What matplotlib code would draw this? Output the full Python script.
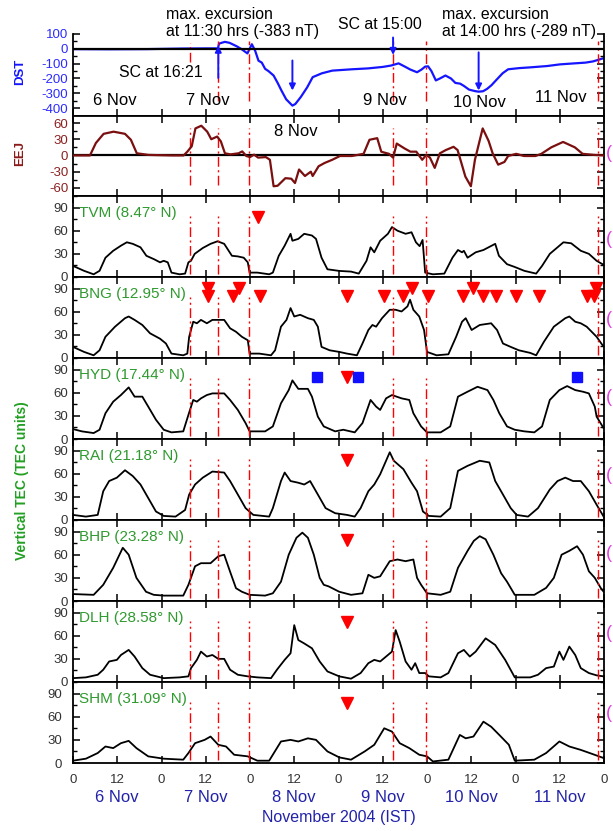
import numpy as np
import matplotlib
matplotlib.use('Agg')
import matplotlib.pyplot as plt
from matplotlib.ticker import MultipleLocator

plt.rcParams['font.family'] = ['Liberation Sans', 'DejaVu Sans']
plt.rcParams['axes.unicode_minus'] = False

# hours counted from 6 Nov 2004 00:00 IST
dst_pts = [(0, -2), (10, -3), (20, -2), (30, 2), (36, 3), (39.3, 3), (39.6, 35), (40.5, 42),
           (41.2, 47), (42.5, 40), (44.4, 17), (45.7, -2), (47.3, -31), (48.5, 31), (49.4, -13),
           (50.3, -80), (51.2, -93), (52.1, -135), (53, -150), (54.4, -180), (55.5, -230),
           (56.5, -280), (57.8, -340), (59.5, -383), (60.3, -372), (61.8, -324), (63.5, -260),
           (65, -191), (67.5, -165), (70.3, -147), (75.6, -138), (80, -132), (84, -122),
           (86.2, -113), (88.3, -98), (90, -120), (91.5, -140), (93.3, -158), (94.5, -140),
           (95.5, -120), (96.3, -118), (97.2, -150), (98.4, -213), (99.5, -200), (101, -180),
           (102.5, -200), (103.7, -230), (105, -235), (106, -250), (107.4, -275), (109, -285),
           (110, -289), (111.2, -286), (112.3, -270), (113.5, -245), (114.8, -210), (116.5, -165),
           (118, -138), (121, -130), (124, -125), (128.6, -116), (132, -105), (136, -98),
           (139, -93), (141, -85), (143, -70), (144, -62)]

eej_pts = [(0, 0), (4.6, 0), (6.2, 23), (8.3, 40), (11, 44), (14.1, 40), (15.7, 29), (17.3, 4),
           (20.5, 1), (26.8, 0), (30, 0), (31, 7), (32.2, 17), (33.2, 50), (34.8, 55), (36.4, 44),
           (37.5, 30), (39.1, 35), (40.1, 26), (41.2, 4), (42.7, 2), (44.9, 4), (45.9, 7.5),
           (47, -1), (48, -3), (49.1, 1.5), (50.2, -4), (52.3, -3), (53.4, -8), (54.4, -57),
           (55.5, -56), (57.6, -42), (59.2, -43), (60.2, -51), (61.3, -26), (62.9, -38),
           (64.5, -30), (65, -38), (66.6, -20), (68.2, -14), (70.3, -8), (72.4, -1), (75.6, -1),
           (78.8, 3), (80.4, 29), (82.5, 32), (83.6, 7), (84.6, 5), (85.7, 3), (86.8, -4),
           (87.8, 22), (89.9, 13), (91.5, 7), (93.1, 7), (94.7, -8), (95.8, 1), (96.8, -4),
           (98.1, -23), (99.5, 4), (101.1, 10), (103.2, 16), (104.3, 10), (106.4, -39),
           (107.9, -57), (109, -8), (111.1, 50), (112.7, 27), (113.8, 4), (115.3, -17), (117, -12),
           (118, -1), (120.2, 3), (122.3, -1), (125.4, -1), (127, 3), (129.7, 15), (132.9, 25),
           (136.1, 15), (138.2, 3), (141.4, 1), (144, 0)]

tvm_pts = [(0, 14.4), (3, 8), (5.6, 3.5), (7.2, 8), (8.8, 25), (10.9, 34), (13, 40.6), (14.6, 45),
           (16.2, 43), (18.3, 38.5), (19.9, 27.5), (22, 23), (23.6, 19), (24.6, 21), (25.7, 19),
           (26.7, 5.7), (28.9, 3.5), (30.4, 4.4), (31.3, 19), (32, 21), (33, 30), (35.2, 37.6),
           (37.3, 43), (39.2, 46.3), (41, 43), (43.1, 27.5), (44.7, 26.7), (46.3, 25), (47.4, 19),
           (47.9, 5.7), (50, 5.7), (53.2, 3.5), (54.2, 5.7), (55.8, 27.5), (57.4, 40.6), (59, 56),
           (59.5, 47), (61.1, 49.4), (62.7, 56), (64.8, 53.8), (65.9, 49.4), (67.4, 25), (69, 10),
           (72.2, 7.9), (75.4, 7), (77.5, 4.4), (79.6, 21), (80.7, 38.5), (81.7, 32), (83.3, 47),
           (85.4, 56), (86.5, 64.7), (88, 60), (90.2, 56), (91.8, 58), (93, 45), (94, 40),
           (94.8, 48), (95.5, 5.7), (97.6, 3.5), (100.7, 4.4), (102.9, 25), (104.4, 35),
           (105.5, 32), (106, 34), (107, 25), (109.2, 32), (111.3, 35), (114.5, 43), (115.5, 27.5),
           (117.7, 16.6), (119.8, 13), (122.4, 8), (125.6, 4.4), (127.2, 14.4), (129.3, 30),
           (131.4, 38.5), (133, 45), (135.1, 43.7), (137.7, 34), (139.9, 30), (142, 21),
           (143.6, 16.6), (144, 16)]

bng_pts = [(0, 14.4), (3, 7.9), (5.6, 3.5), (7.2, 10), (8.8, 27.5), (11.4, 40.6), (14.1, 51.6),
           (15.1, 53.8), (16.7, 49.4), (18.8, 42.8), (20.9, 32), (23.6, 25), (25.2, 18.8),
           (26.7, 5.7), (29.9, 3.5), (31, 5.7), (31.5, 27.5), (32.6, 47), (33.6, 45), (34.7, 49.4),
           (36.3, 45), (37.8, 49.4), (41, 49.4), (42.6, 38.5), (44.2, 34), (45.8, 27.5),
           (47.4, 23), (47.9, 5.7), (50.5, 5.7), (53.7, 3.5), (54.8, 10), (56.4, 40.6),
           (57.9, 49.4), (59, 64.7), (60, 53.8), (61.6, 56), (63.7, 51.6), (65.3, 49.4),
           (66.4, 40.6), (67.4, 14.4), (69.6, 10), (72.2, 7.9), (74.3, 5.7), (77, 3.5), (78.5, 18.8),
           (80.1, 36.3), (81.2, 42.8), (82.2, 40.6), (83.8, 51.6), (85.9, 62.5), (87.5, 62.5),
           (89.1, 60.3), (90.7, 66.9), (91.4, 75.6), (92.3, 62.5), (93.9, 53.8), (95.2, 36.3),
           (96, 7.9), (98.6, 3.5), (101.8, 4.8), (103.9, 27.5), (105.5, 47), (106.5, 51.6),
           (108.1, 36.3), (110.3, 42.8), (113.4, 45), (115, 36.3), (116.6, 18.8), (118.7, 14.4),
           (120.9, 10), (124, 6.6), (125.6, 3.5), (127.7, 21), (130.4, 40.6), (133.5, 51.6),
           (134.6, 53.8), (136.2, 47), (137.7, 45), (139.3, 40.6), (142, 27.5), (143.6, 16.6),
           (144, 15)]

hyd_pts = [(0, 12.9), (2.4, 9.9), (5.6, 7.7), (7.2, 12), (8.8, 33.4), (10.9, 48.4), (13, 57),
           (15.1, 66.9), (16.7, 54.9), (18.8, 54.9), (20.4, 42), (22.5, 24.9), (24.6, 12),
           (26.7, 8.6), (29.9, 9.9), (31.3, 31.3), (32.6, 50.6), (33.6, 48.4), (34.7, 52.7),
           (36.3, 57), (37.8, 59.1), (41, 59.1), (42.6, 50.6), (44.7, 37.7), (46.8, 20.6),
           (47.9, 9.9), (52.1, 9.9), (54.2, 16.3), (56.4, 46.3), (58.5, 63.4), (59.5, 76),
           (61.1, 65), (63.7, 65), (64.8, 54.9), (66.4, 29), (68, 16.3), (71.1, 9.9), (73.3, 12),
           (76.4, 8.6), (78.5, 20.6), (80.7, 50.6), (82.2, 42), (83.3, 37.7), (84.9, 52.7),
           (86.5, 57), (89.1, 52.7), (91.2, 50.6), (92.3, 33.4), (94.4, 16.3), (96, 8.6),
           (99.7, 8.6), (102.3, 16.3), (104.4, 54.9), (107, 61.3), (109.7, 67.7), (112.4, 63.4),
           (114, 50.6), (115.6, 33.4), (117.7, 16.3), (119.8, 12), (122.4, 9.9), (125.1, 8.6),
           (127.2, 16.3), (129.3, 50.6), (131.9, 63.4), (134, 68.6), (136.2, 63.4), (138.3, 61.3),
           (139.9, 59.1), (141.5, 42), (142, 29), (143.9, 14)]

rai_pts = [(0, 6.6), (3.5, 4.4), (6.7, 6.6), (8.2, 37.3), (9.8, 50.5), (11.9, 54.9), (14.1, 64.5),
           (16.2, 57), (18.3, 46), (20.4, 28.5), (22.5, 11), (24.6, 5.3), (27.8, 4.4), (30.4, 13),
           (31.5, 33), (33.1, 46), (35.2, 54.9), (37.8, 62.8), (41, 61.5), (42.6, 50.5),
           (44.7, 33), (46.8, 15.4), (48.9, 6.6), (53.2, 4.4), (54.2, 15.4), (56.4, 50.5),
           (57.4, 61.5), (59, 50.5), (61.1, 48.3), (62.7, 46), (64.3, 50.5), (66.4, 33),
           (68.5, 15.4), (71.1, 8.8), (74.3, 6.6), (76.4, 4.4), (78, 15.4), (80.1, 37.3),
           (81.7, 46), (83.3, 59.3), (85.9, 87.8), (87, 76.8), (89.6, 65.9), (91.8, 48.3),
           (93.3, 37.3), (94.9, 11), (96.5, 5.3), (99.7, 4.4), (102.3, 15.4), (104.4, 63.7),
           (107, 70.2), (110.3, 76.8), (112.9, 74.6), (114.5, 50.5), (116.6, 33), (118.7, 15.4),
           (120.3, 6.6), (123.4, 4.4), (126.1, 15.4), (129.3, 39.5), (131.4, 50.5), (133.5, 54.9),
           (135.6, 50.5), (137.7, 50.5), (139.9, 37.3), (142, 19.8), (143.9, 4.4)]

bhp_pts = [(0, 9), (5.6, 8), (8.2, 21), (10.9, 43), (13.5, 69), (15.1, 60), (17.2, 30),
           (19.8, 12), (21.9, 8), (24.6, 7), (29.9, 7), (31.3, 21), (33.1, 45), (34.7, 49),
           (37.3, 49), (39.4, 58), (41, 60), (42.6, 38), (44.2, 16.6), (45.8, 12), (47.9, 8),
           (52.1, 7), (54.2, 10), (56.4, 25), (58.5, 60), (60.6, 82), (62.2, 88.6), (63.7, 82),
           (65.3, 60), (66.9, 30), (68, 21), (69.3, 19), (72.2, 12), (75.4, 8), (78.5, 10),
           (80.1, 34), (81.7, 30), (83.3, 32), (85.9, 51.6), (88, 53.8), (90.2, 51.6), (92.3, 53.8),
           (93.3, 30), (94.4, 21), (96, 10), (99.7, 8), (102.3, 12), (104.4, 43), (107, 65),
           (108.7, 78), (110.3, 84), (111.9, 80), (114, 60), (116.1, 36), (117.7, 25), (119.8, 8),
           (125.1, 8), (128.3, 17), (130.4, 30), (132.5, 60), (134.6, 65), (136.7, 71), (138.3, 60),
           (139.9, 38.5), (141.5, 30), (143.1, 17), (143.9, 12)]

dlh_pts = [(0, 5), (3.5, 6), (6.7, 9.4), (8.2, 15.9), (9.8, 26.6), (11.9, 28.7), (13, 35),
           (15.1, 41.6), (16.7, 33), (18.8, 18), (20.9, 9.4), (24.6, 5), (28.9, 6), (31.3, 7.3),
           (32, 18), (33.6, 28.7), (34.7, 39.4), (36.3, 33), (37.8, 35), (39.4, 30), (41, 30),
           (42.6, 15.9), (44.7, 9.4), (47.4, 7.3), (50, 6), (53.7, 5), (55.3, 15.9), (57.4, 28.7),
           (59, 37.3), (60, 73.7), (61.1, 54.4), (62.7, 50), (64.8, 43.7), (66.9, 26.6),
           (69, 13.7), (72.2, 7.3), (75.4, 4.3), (78, 11.6), (80.1, 24.4), (81.7, 28.7),
           (83.3, 26.6), (84.9, 33), (86.5, 39.4), (87.5, 67.3), (88.6, 52.3), (90.2, 26.6),
           (91.8, 15.9), (92.8, 24.4), (93.9, 11.6), (95.5, 11.6), (96.5, 7.3), (99.7, 6),
           (101.8, 11.6), (104.4, 37.3), (106, 41.6), (107.6, 33), (109.2, 39.4), (111.9, 56.6),
           (114.5, 48), (117.2, 28.7), (119.8, 6), (124, 6), (126.1, 9.4), (128.3, 18),
           (130.4, 20), (131.9, 39.4), (133, 28.7), (134.6, 45.9), (136.2, 35), (137.7, 18),
           (139.9, 11.6), (142, 8.6), (143.9, 7.3)]

shm_pts = [(0, 3), (3.5, 5.6), (6.7, 12.9), (8.8, 21.4), (10.9, 19.3), (13, 25.7), (15.1, 28.7),
           (17.2, 19.3), (20.4, 8.6), (24.6, 5.6), (29.9, 4.3), (31.3, 12.9), (33.1, 25.7),
           (35.7, 30), (37.3, 34.3), (39.4, 23.6), (41.5, 21.4), (43.7, 10.7), (47.4, 8.6),
           (50, 3), (53.2, 3), (56.4, 27.9), (59, 30), (61.1, 27.9), (63.7, 32), (65.9, 30),
           (69, 15), (72.2, 7.3), (75.4, 4.3), (79.1, 15), (81.7, 23.6), (84.4, 45), (86.5, 40.7),
           (88.6, 25.7), (91.2, 19.3), (93.9, 10.7), (96, 8.6), (97.6, 2), (101.8, 4.3),
           (104.9, 36.4), (106.5, 32), (108.6, 34.3), (111.3, 53.6), (113.4, 47), (115.6, 36.4),
           (118.2, 23.6), (119.8, 3), (125.1, 4.3), (128.3, 12.9), (131.9, 27.9), (134.6, 21.4),
           (137.7, 17), (140.9, 11.6), (143.9, 6.4)]

stations = ['TVM (8.47° N)', 'BNG (12.95° N)', 'HYD (17.44° N)', 'RAI (21.18° N)',
            'BHP (23.28° N)', 'DLH (28.58° N)', 'SHM (31.09° N)']
tec_series = [tvm_pts, bng_pts, hyd_pts, rai_pts, bhp_pts, dlh_pts, shm_pts]

# scintillation markers (hour, height in TEC units)
tri_pts = [
    [(50.3, 78)],
    [(36.6, 91), (36.6, 80), (43.4, 80), (44.9, 91), (50.8, 80), (74.3, 80), (84.4, 80),
     (89.6, 80), (92.0, 91), (96.3, 80), (105.7, 80), (108.5, 91), (111.1, 80), (114.7, 80),
     (120.1, 80), (126.4, 80), (139.5, 80), (141.4, 80), (141.8, 91)],
    [(74.3, 80)],
    [(74.3, 78)],
    [(74.3, 79)],
    [(74.3, 78)],
    [(74.3, 78)],
]
hyd_squares = [(66.1, 81), (77.2, 81), (136.7, 81)]

event_lines = [31.6, 39.4, 47.6, 86.8, 95.8, 142.3]
day_names = ['6 Nov', '7 Nov', '8 Nov', '9 Nov', '10 Nov', '11 Nov']

W, H = 613, 831
fig = plt.figure(figsize=(W / 100, H / 100), dpi=100)


def box(top, bottom):
    return [73 / W, 1 - bottom / H, 531 / W, (bottom - top) / H]


def style(ax, color, minor):
    ax.set_xlim(0, 144)
    ax.set_xticks(np.arange(0, 145, 12))
    ax.yaxis.set_minor_locator(MultipleLocator(minor))
    ax.tick_params(direction='in', top=True, right=True, length=5, width=1.1,
                   labelsize=9.5, labelcolor=color, labelbottom=False)
    ax.tick_params(which='minor', direction='in', right=True, length=3, width=1)
    for s in ax.spines.values():
        s.set_linewidth(1.3)


ev_dash = (0, (7, 2.5, 1.5, 2.5))

# ---- DST panel
ax_dst = fig.add_axes(box(34, 116))
h, v = np.array(dst_pts).T
ax_dst.axhline(0, color='black', lw=1.6, zorder=3)
ax_dst.plot(h, v, color='#1515ff', lw=1.6, zorder=2)
ax_dst.set_ylim(-453, 100)
ax_dst.set_yticks([100, 0, -100, -200, -300, -400])
style(ax_dst, '#2b2bff', 50)
ax_dst.spines['top'].set_visible(False)
ax_dst.tick_params(top=False)
for i, t in enumerate(event_lines):
    if i == 0:
        ax_dst.axvline(t, 0.66, 0.89, color='red', lw=1, ls=ev_dash)
    else:
        ax_dst.axvline(t, 0.18, 0.92, color='red', lw=1, ls=ev_dash)

arr = dict(arrowstyle='-|>', color='#1515ff', lw=1.4, mutation_scale=9)
ax_dst.annotate('', xy=(39.4, 40), xytext=(39.4, -215), arrowprops=arr)
ax_dst.annotate('', xy=(86.8, -60), xytext=(86.8, 95), arrowprops=arr, annotation_clip=False)
ax_dst.annotate('', xy=(59.5, -300), xytext=(59.5, -60), arrowprops=arr)
ax_dst.annotate('', xy=(110, -300), xytext=(110, -5), arrowprops=arr)

ax_dst.text(25.2, 233, 'max. excursion', fontsize=11.4, va='center', clip_on=False)
ax_dst.text(25.2, 120, 'at 11:30 hrs (-383 nT)', fontsize=11.4, va='center', clip_on=False)
ax_dst.text(100.1, 233, 'max. excursion', fontsize=11.4, va='center', clip_on=False)
ax_dst.text(100.1, 120, 'at 14:00 hrs (-289 nT)', fontsize=11.4, va='center', clip_on=False)
ax_dst.text(71.9, 167, 'SC at 15:00', fontsize=11.4, va='center', clip_on=False)
ax_dst.text(12.5, -160, 'SC at 16:21', fontsize=11.4, va='center')
for x, y, name in [(11.3, -347, '6 Nov'), (36.6, -347, '7 Nov'), (84.6, -347, '9 Nov'),
                   (110.1, -360, '10 Nov'), (132.4, -327, '11 Nov')]:
    ax_dst.text(x, y, name, fontsize=12, ha='center', va='center')

# ---- EEJ panel
ax_eej = fig.add_axes(box(116, 196))
h, v = np.array(eej_pts).T
ax_eej.axhline(0, color='black', lw=1.6, zorder=3)
ax_eej.plot(h, v, color='#7a0f0f', lw=1.6, zorder=4)
ax_eej.set_ylim(-75, 73)
ax_eej.set_yticks([60, 30, 0, -30, -60])
style(ax_eej, '#8b2020', 15)
for t in event_lines:
    ax_eej.axvline(t, 0.14, 0.85, color='red', lw=1, ls=ev_dash)
ax_eej.text(60.5, 44, '8 Nov', fontsize=12, ha='center', va='center')

# ---- TEC panels
for i in range(7):
    ax = fig.add_axes(box(196 + 81 * i, 277 + 81 * i))
    h, v = np.array(tec_series[i]).T
    ax.plot(h, v, color='black', lw=1.3)
    ax.set_ylim(0, 105)
    ax.set_yticks([0, 30, 60, 90])
    style(ax, '#333333', 15)
    for t in event_lines:
        ax.axvline(t, 0.04, 0.75, color='red', lw=1, ls=ev_dash)
    th, tv = np.array(tri_pts[i]).T
    ax.plot(th, tv, 'v', color='red', ms=9, mec='red', clip_on=False)
    if i == 2:
        sh, sv = np.array(hyd_squares).T
        ax.plot(sh, sv, 's', color='#1010ff', ms=7)
    ax.text(0.012, 0.79, stations[i], transform=ax.transAxes, fontsize=11,
            color='#2f9a2f', va='center')
    if i == 6:
        ax.tick_params(labelbottom=True, labelcolor='#333333', pad=8)
        ax.set_xticklabels(['0', '12'] * 6 + ['0'])
        for d, name in enumerate(day_names):
            ax.text(12 + 24 * d, -0.43, name, transform=ax.get_xaxis_transform(),
                    fontsize=12, color='#2222aa', ha='center', va='center')
        ax.text(72, -0.67, 'November 2004 (IST)', transform=ax.get_xaxis_transform(),
                fontsize=11.5, color='#2222aa', ha='center', va='center')

fig.text(20 / W, 1 - 72 / H, 'DST', rotation=90, color='#1515ff', fontsize=9.5,
         fontweight='bold', ha='center', va='center')
fig.text(20 / W, 1 - 154 / H, 'EEJ', rotation=90, color='#8b1a1a', fontsize=9.5,
         fontweight='bold', ha='center', va='center')
fig.text(22 / W, 1 - 481 / H, 'Vertical TEC (TEC units)', rotation=90, color='#22a022',
         fontsize=10, fontweight='bold', ha='center', va='center')
for y in [154, 239, 319, 397, 475, 553, 633, 713]:
    fig.text(606 / W, 1 - y / H, '(', color='#e040e0', fontsize=13, ha='left', va='center')

fig.savefig('out.png', dpi=100)
